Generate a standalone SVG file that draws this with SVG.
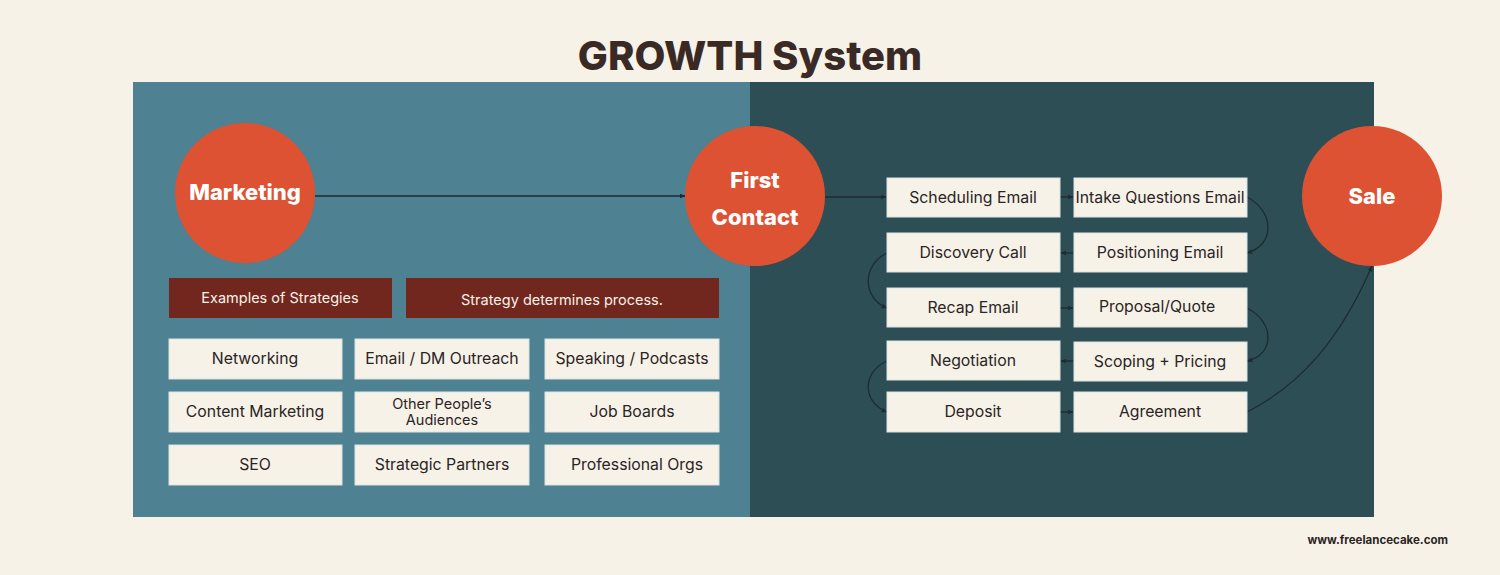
<svg xmlns="http://www.w3.org/2000/svg" width="1500" height="575" viewBox="0 0 1500 575">
<style>
.box{fill:#F7F2E8;stroke:#d9e3e4;stroke-width:1}
.bt{font-family:Inter,"Noto Sans",sans-serif;font-size:15.8px;fill:#2a2424;text-anchor:middle}
.red{fill:#72271E}
.rt{font-family:Inter,"Noto Sans",sans-serif;font-size:14.5px;fill:#F7F2E8;text-anchor:middle}
.circ{fill:#DD5232}
.ct{font-family:Inter,"Liberation Sans",sans-serif;font-size:22px;font-weight:800;fill:#ffffff;text-anchor:middle}
.con{fill:none;stroke:#1c2c30;stroke-width:1.3}
</style>
<defs>
<marker id="ah" viewBox="0 0 10 10" refX="9" refY="5" markerWidth="6" markerHeight="6" orient="auto" markerUnits="userSpaceOnUse">
<path d="M0,1 L10,5 L0,9 z" fill="#1c2c30"/>
</marker>
</defs>
<rect width="1500" height="575" fill="#F7F2E8"/>
<text x="750" y="70" font-family="Inter,'Liberation Sans',sans-serif" font-size="40" font-weight="800" fill="#3A2A26" text-anchor="middle">GROWTH System</text>
<rect x="133" y="82" width="617" height="435" fill="#4E8191"/>
<rect x="750" y="82" width="624" height="435" fill="#2E4E56"/>
<text x="1448" y="544" font-family="Inter,'Liberation Sans',sans-serif" font-size="11.5" font-weight="700" fill="#2a2424" text-anchor="end">www.freelancecake.com</text>

<g id="connectors">
<path class="con" d="M315,196 L685,196" marker-end="url(#ah)"/>
<path class="con" d="M825,197 L886,197" marker-end="url(#ah)"/>
<path class="con" d="M1060,197 L1073,197" marker-end="url(#ah)"/>
<path class="con" d="M1247,197 C1275,212 1275,245 1247,253" marker-end="url(#ah)"/>
<path class="con" d="M1073,253 L1061,253" marker-end="url(#ah)"/>
<path class="con" d="M887,253 C862,265 862,298 887,308" marker-end="url(#ah)"/>
<path class="con" d="M1060,308 L1073,308" marker-end="url(#ah)"/>
<path class="con" d="M1247,308 C1275,322 1275,355 1247,361" marker-end="url(#ah)"/>
<path class="con" d="M1073,361 L1061,361" marker-end="url(#ah)"/>
<path class="con" d="M887,361 C862,372 862,402 887,412" marker-end="url(#ah)"/>
<path class="con" d="M1060,412 L1073,412" marker-end="url(#ah)"/>
<path class="con" d="M1247,412 C1300,385 1340,340 1372,266" marker-end="url(#ah)"/>
</g>

<g id="marketing"><circle class="circ" cx="245" cy="193" r="70"/><text class="ct" x="245" y="200">Marketing</text></g>
<g id="first-contact"><circle class="circ" cx="755" cy="196" r="70"/><text class="ct" x="755" y="188">First</text><text class="ct" x="755" y="225">Contact</text></g>
<g id="sale"><circle class="circ" cx="1372" cy="196" r="70"/><text class="ct" x="1372" y="204">Sale</text></g>

<g id="examples"><rect class="red" x="169" y="278" width="223" height="40"/><text class="rt" x="280" y="303">Examples of Strategies</text></g>
<g id="strategy-note"><rect class="red" x="406" y="278" width="313" height="40"/><text class="rt" x="562" y="305">Strategy determines process.</text></g>

<g id="networking"><rect class="box" x="169" y="339" width="173" height="40"/><text class="bt" x="255" y="364">Networking</text></g>
<g id="email-dm"><rect class="box" x="355" y="339" width="174" height="40"/><text class="bt" x="442" y="364">Email / DM Outreach</text></g>
<g id="speaking"><rect class="box" x="545" y="339" width="174" height="40"/><text class="bt" x="632" y="364">Speaking / Podcasts</text></g>
<g id="content"><rect class="box" x="169" y="392" width="173" height="40"/><text class="bt" x="255" y="417">Content Marketing</text></g>
<g id="opa"><rect class="box" x="355" y="392" width="174" height="40"/><text class="bt" x="442" y="409" style="font-size:14.5px">Other People’s</text><text class="bt" x="442" y="425" style="font-size:14.5px">Audiences</text></g>
<g id="job-boards"><rect class="box" x="545" y="392" width="174" height="40"/><text class="bt" x="632" y="417">Job Boards</text></g>
<g id="seo"><rect class="box" x="169" y="445" width="173" height="40"/><text class="bt" x="255" y="470">SEO</text></g>
<g id="partners"><rect class="box" x="355" y="445" width="174" height="40"/><text class="bt" x="442" y="470">Strategic Partners</text></g>
<g id="prof-orgs"><rect class="box" x="545" y="445" width="174" height="40"/><text class="bt" x="637" y="470">Professional Orgs</text></g>

<g id="scheduling"><rect class="box" x="887" y="178" width="173" height="39"/><text class="bt" x="973" y="203">Scheduling Email</text></g>
<g id="intake"><rect class="box" x="1074" y="178" width="173" height="39"/><text class="bt" x="1160" y="203">Intake Questions Email</text></g>
<g id="discovery"><rect class="box" x="887" y="233" width="173" height="39"/><text class="bt" x="973" y="258">Discovery Call</text></g>
<g id="positioning"><rect class="box" x="1074" y="233" width="173" height="39"/><text class="bt" x="1160" y="258">Positioning Email</text></g>
<g id="recap"><rect class="box" x="887" y="288" width="173" height="39"/><text class="bt" x="973" y="313">Recap Email</text></g>
<g id="proposal"><rect class="box" x="1074" y="288" width="173" height="39"/><text class="bt" x="1157" y="312">Proposal/Quote</text></g>
<g id="negotiation"><rect class="box" x="887" y="341" width="173" height="39"/><text class="bt" x="973" y="366">Negotiation</text></g>
<g id="scoping"><rect class="box" x="1074" y="342" width="173" height="39"/><text class="bt" x="1160" y="367">Scoping + Pricing</text></g>
<g id="deposit"><rect class="box" x="887" y="392" width="173" height="40"/><text class="bt" x="973" y="417">Deposit</text></g>
<g id="agreement"><rect class="box" x="1074" y="392" width="173" height="40"/><text class="bt" x="1160" y="417">Agreement</text></g>
</svg>
